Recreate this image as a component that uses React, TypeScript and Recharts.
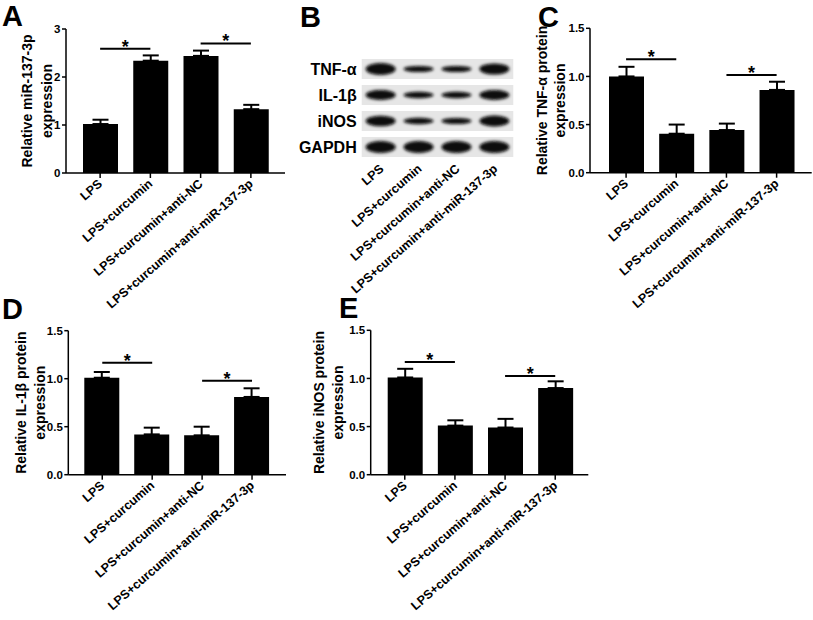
import React from 'react';
import {
  BarChart, Bar, XAxis, YAxis, ErrorBar, ReferenceLine,
  ScatterChart, Scatter, ReferenceArea,
} from 'recharts';

const FONT = '"Liberation Sans", Arial, Helvetica, sans-serif';

// ---------- data ----------
const groups = ['LPS', 'LPS+curcumin', 'LPS+curcumin+anti-NC', 'LPS+curcumin+anti-miR-137-3p'];

const miR137Mean = [1.02, 2.34, 2.44, 1.33];
const miR137SD = [0.09, 0.11, 0.11, 0.09];
const tnfMean = [1.0, 0.405, 0.443, 0.86];
const tnfSD = [0.1, 0.095, 0.067, 0.085];
const il1bMean = [1.01, 0.42, 0.41, 0.81];
const il1bSD = [0.06, 0.07, 0.09, 0.09];
const inosMean = [1.01, 0.51, 0.49, 0.9];
const inosSD = [0.09, 0.055, 0.09, 0.07];

const ticksA = [0, 1, 2, 3];
const ticksProt = [0, 0.5, 1, 1.5];

const miR137Sig = [{ from: 0, to: 1, y: 2.59 }, { from: 2, to: 3, y: 2.7 }];
const tnfSig = [{ from: 0, to: 1, y: 1.178 }, { from: 2, to: 3, y: 1.015 }];
const il1bSig = [{ from: 0, to: 1, y: 1.167 }, { from: 2, to: 3, y: 0.979 }];
const inosSig = [{ from: 0, to: 1, y: 1.17 }, { from: 2, to: 3, y: 1.025 }];

// western blot (relative band strength per lane)
const blotProteins = ['TNF-α', 'IL-1β', 'iNOS', 'GAPDH'];
const blotTnf = [1.0, 0.42, 0.42, 0.9];
const blotIl1b = [0.8, 0.45, 0.45, 0.78];
const blotInos = [0.85, 0.45, 0.42, 0.88];
const blotGapdh = [1.0, 1.0, 1.0, 1.0];

// ---------- helpers ----------
function AngledTick(props: any) {
  const { x, y, payload, fmt, dxo = 3, dyo = 5 } = props;
  const label = fmt ? fmt(payload.value) : payload.value;
  return (
    <g transform={`translate(${x + dxo},${y + dyo}) rotate(-41)`}>
      <text x={0} y={0} textAnchor="end" fontSize={12.5} fontWeight="bold" fontFamily={FONT} fill="#000">
        {label}
      </text>
    </g>
  );
}

function YLabel(props: any) {
  const { lines, xs, cy } = props;
  return (
    <g>
      {lines.map((t: string, i: number) => (
        <text
          key={i}
          x={xs[i]}
          y={cy}
          transform={`rotate(-90, ${xs[i]}, ${cy})`}
          textAnchor="middle"
          fontSize={14}
          fontWeight="bold"
          fontFamily={FONT}
          fill="#000"
        >
          {t}
        </text>
      ))}
    </g>
  );
}

function Star(props: any) {
  const vb = props.viewBox || {};
  const cx = vb.x1 !== undefined ? (vb.x1 + vb.x2) / 2 : vb.x + vb.width / 2;
  const yy = vb.y1 !== undefined ? Math.min(vb.y1, vb.y2) : vb.y;
  return (
    <text x={cx} y={yy + 4} textAnchor="middle" fontSize={18} fontWeight="bold" fontFamily={FONT} fill="#000">
      *
    </text>
  );
}

type Box = { left: number; top: number; w: number; h: number };
type Plot = { x0: number; x1: number; y0: number; y1: number };

function BarPanel(props: {
  box: Box; plot: Plot; mean: number[]; sd: number[]; domain: [number, number];
  ticks: number[]; decimals: number; labelLines: string[]; labelXs: number[];
  sig: { from: number; to: number; y: number }[]; pad: { left: number; right: number };
}) {
  const { box, plot, mean, sd, domain, ticks, decimals, labelLines, labelXs, sig, pad } = props;
  const data = groups.map((g, i) => ({ g, v: mean[i], err: [0, sd[i]] }));
  const margin = { top: plot.y0 - box.top, right: box.left + box.w - plot.x1, left: 0, bottom: 0 };
  const yW = plot.x0 - box.left;
  const xH = box.top + box.h - plot.y1;
  const cy = (plot.y0 + plot.y1) / 2 - box.top;
  const axisStyle = { stroke: '#000', strokeWidth: 1.5 };
  return (
    <div style={{ position: 'absolute', left: box.left, top: box.top }}>
      <BarChart width={box.w} height={box.h} data={data} margin={margin} barSize={35}>
        <XAxis
          dataKey="g"
          type="category"
          interval={0}
          height={xH}
          padding={pad}
          tick={<AngledTick />}
          tickSize={5}
          tickMargin={2}
          axisLine={axisStyle}
          tickLine={axisStyle}
        />
        <YAxis
          type="number"
          width={yW}
          domain={domain}
          ticks={ticks}
          allowDataOverflow
          tickFormatter={(v: number) => v.toFixed(decimals)}
          tickSize={4}
          tickMargin={1.5}
          axisLine={axisStyle}
          tickLine={axisStyle}
          tick={{ fill: '#000', fontSize: 11.5, fontWeight: 'bold', fontFamily: FONT }}
          label={<YLabel lines={labelLines} xs={labelXs.map((x) => x - box.left)} cy={cy} />}
        />
        <Bar dataKey="v" fill="#000" isAnimationActive={false}>
          <ErrorBar dataKey="err" width={8} strokeWidth={2} stroke="#000" direction="y" isAnimationActive={false} />
        </Bar>
        {sig.map((s, i) => (
          <ReferenceLine
            key={i}
            segment={[{ x: groups[s.from], y: s.y }, { x: groups[s.to], y: s.y }]}
            stroke="#000"
            strokeWidth={2}
            ifOverflow="visible"
            label={<Star />}
          />
        ))}
      </BarChart>
    </div>
  );
}

function BandShape(props: any) {
  const { cx, cy, payload } = props;
  const ry = 1 + 5 * payload.s;
  return <ellipse cx={cx} cy={cy} rx={15} ry={ry} fill="#080808" filter="url(#blotBlur)" />;
}

function BlotPanel() {
  const box = { left: 290, top: 40, w: 235, h: 280 };
  const plot = { x0: 361.7, x1: 513.3, y0: 56, y1: 160 };
  const rows = [blotTnf, blotIl1b, blotInos, blotGapdh];
  const data: { lane: number; row: number; s: number }[] = [];
  rows.forEach((arr, r) => arr.forEach((s, l) => data.push({ lane: l + 1, row: r + 1, s })));
  const margin = { top: plot.y0 - box.top, right: box.left + box.w - plot.x1, left: 0, bottom: 0 };
  return (
    <div style={{ position: 'absolute', left: box.left, top: box.top }}>
      <ScatterChart width={box.w} height={box.h} margin={margin}>
        {blotProteins.map((p, r) => (
          <ReferenceArea
            key={p}
            x1={0.5}
            x2={4.5}
            y1={r + 1 - 0.385}
            y2={r + 1 + 0.385}
            fill="#e6e6e6"
            fillOpacity={1}
            stroke="none"
            ifOverflow="visible"
          />
        ))}
        <XAxis
          type="number"
          dataKey="lane"
          domain={[0.5, 4.5]}
          ticks={[1, 2, 3, 4]}
          interval={0}
          height={box.top + box.h - plot.y1}
          axisLine={false}
          tickLine={false}
          tickSize={0}
          tickMargin={4}
          tick={<AngledTick fmt={(v: number) => groups[v - 1]} dxo={4} dyo={6} />}
        />
        <YAxis
          type="number"
          dataKey="row"
          domain={[0.5, 4.5]}
          reversed
          ticks={[1, 2, 3, 4]}
          interval={0}
          width={plot.x0 - box.left}
          axisLine={false}
          tickLine={false}
          tickSize={0}
          tickMargin={5}
          tickFormatter={(v: number) => blotProteins[v - 1]}
          tick={{ fill: '#000', fontSize: 16, fontWeight: 'bold', fontFamily: FONT }}
        />
        <Scatter data={data} isAnimationActive={false} shape={(p: any) => <BandShape {...p} />} />
      </ScatterChart>
    </div>
  );
}

const letterStyle = { fontSize: 29, fontWeight: 'bold' as const, fontFamily: FONT };

export default function App() {
  return (
    <div style={{ position: 'absolute', left: 0, top: 0, width: 813, height: 620, background: '#fff', overflow: 'hidden' }}>
      <svg width={0} height={0} style={{ position: 'absolute' }}>
        <defs>
          <filter id="blotBlur" x="-30%" y="-100%" width="160%" height="300%">
            <feGaussianBlur stdDeviation="1.8" />
          </filter>
        </defs>
      </svg>
      <BarPanel
        box={{ left: 0, top: 0, w: 290, h: 320 }}
        plot={{ x0: 66, x1: 285, y0: 29, y1: 173 }}
        mean={miR137Mean}
        sd={miR137SD}
        domain={[0, 3]}
        ticks={ticksA}
        decimals={0}
        labelLines={['Relative miR-137-3p', 'expression']}
        labelXs={[32, 52]}
        sig={miR137Sig}
        pad={{ left: 9, right: 9 }}
      />
      <BlotPanel />
      <BarPanel
        box={{ left: 530, top: 0, w: 283, h: 320 }}
        plot={{ x0: 590, x1: 811.7, y0: 28.3, y1: 172.7 }}
        mean={tnfMean}
        sd={tnfSD}
        domain={[0, 1.5]}
        ticks={ticksProt}
        decimals={1}
        labelLines={['Relative TNF-α protein', 'expression']}
        labelXs={[547, 565]}
        sig={tnfSig}
        pad={{ left: 11, right: 10 }}
      />
      <BarPanel
        box={{ left: 0, top: 300, w: 300, h: 320 }}
        plot={{ x0: 68.3, x1: 286, y0: 330.7, y1: 474.7 }}
        mean={il1bMean}
        sd={il1bSD}
        domain={[0, 1.5]}
        ticks={ticksProt}
        decimals={1}
        labelLines={['Relative IL-1β protein', 'expression']}
        labelXs={[26, 45]}
        sig={il1bSig}
        pad={{ left: 9, right: 9 }}
      />
      <BarPanel
        box={{ left: 310, top: 300, w: 300, h: 320 }}
        plot={{ x0: 370.7, x1: 588.3, y0: 330.3, y1: 474.7 }}
        mean={inosMean}
        sd={inosSD}
        domain={[0, 1.5]}
        ticks={ticksProt}
        decimals={1}
        labelLines={['Relative iNOS protein', 'expression']}
        labelXs={[324, 343]}
        sig={inosSig}
        pad={{ left: 9, right: 8 }}
      />
      <svg width={813} height={620} style={{ position: 'absolute', left: 0, top: 0, pointerEvents: 'none' }}>
        <text x={2} y={26} {...letterStyle}>A</text>
        <text x={300} y={27} {...letterStyle}>B</text>
        <text x={538} y={27} {...letterStyle}>C</text>
        <text x={2} y={319} {...letterStyle}>D</text>
        <text x={339} y={318} {...letterStyle}>E</text>
      </svg>
    </div>
  );
}
